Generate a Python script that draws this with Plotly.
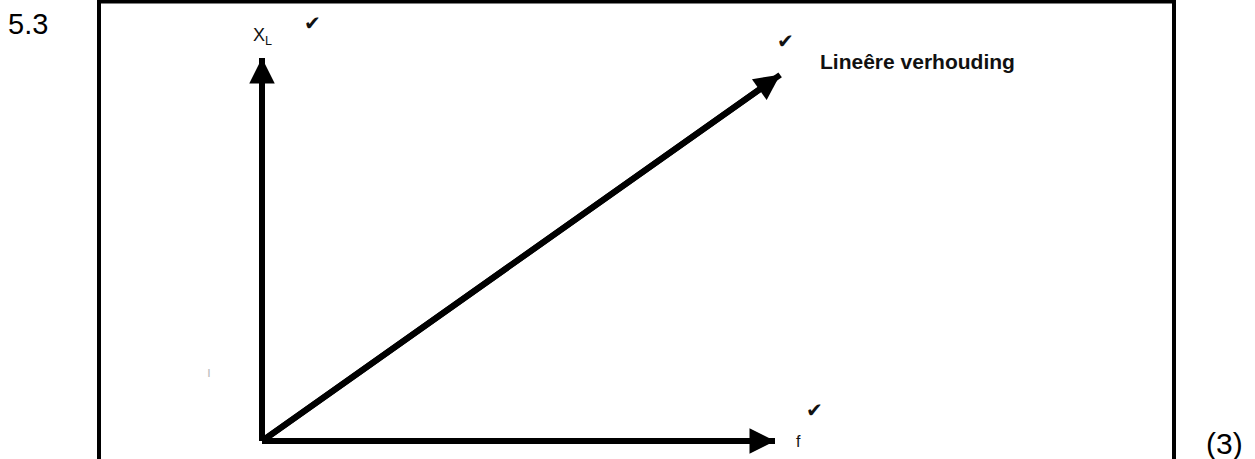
import plotly.graph_objects as go

# data (f on the x axis, X_L on the y axis, axis length = 1)
f_axis_f = [0, 1.0]
f_axis_xl = [0, 0]
xl_axis_f = [0, 0]
xl_axis_xl = [0, 1.0]
line_f = [0, 1.01]
line_xl = [0, 0.956]

W, H = 1255, 459


def px(x, y):
    # pixel position -> paper coords
    return x / W, 1 - y / H


fig = go.Figure()
for xs, ys in [(f_axis_f, f_axis_xl), (xl_axis_f, xl_axis_xl), (line_f, line_xl)]:
    fig.add_trace(go.Scatter(x=xs, y=ys, mode="lines", line=dict(color="black", width=6),
                             hoverinfo="skip", showlegend=False))
    # arrow head at the end of each line
    fig.add_annotation(x=xs[1], y=ys[1], ax=xs[0], ay=ys[0], xref="x", yref="y",
                       axref="x", ayref="y", text="", showarrow=True,
                       arrowhead=2, arrowsize=0.85, arrowwidth=6, arrowcolor="black")

font = "Liberation Sans, Arial, sans-serif"
ann = [
    dict(x=0, y=1.057, text="X<sub>L</sub>", size=18),
    dict(x=0.099, y=1.091, text="✔", size=20),
    dict(x=1.021, y=1.044, text="✔", size=20),
    dict(x=1.077, y=0.081, text="✔", size=20),
    dict(x=1.046, y=0.0, text="f", size=16),
]
for a in ann:
    fig.add_annotation(x=a["x"], y=a["y"], xref="x", yref="y", text=a["text"],
                       showarrow=False, font=dict(family=font, size=a["size"], color="#111"))

fig.add_annotation(x=1.084, y=0.992, xref="x", yref="y", text="<b>Lineêre verhouding</b>",
                   xanchor="left", showarrow=False,
                   font=dict(family=font, size=21, color="#111"))
fig.add_annotation(x=-0.104, y=0.18, xref="x", yref="y", text="ı", showarrow=False,
                   font=dict(family=font, size=14, color="#bbb"))

x53, y53 = px(6, 24)
fig.add_annotation(x=x53, y=y53, xref="paper", yref="paper", text="5.3",
                   xanchor="left", yanchor="middle",
                   showarrow=False, font=dict(family=font, size=29, color="black"))
x3, y3 = px(1224, 443)
fig.add_annotation(x=x3, y=y3, xref="paper", yref="paper", text="(3)",
                   xanchor="center", yanchor="middle",
                   showarrow=False, font=dict(family=font, size=30, color="black"))

bx0, by0 = px(99, 1.5)
bx1, by1 = px(1174, 470)
fig.add_shape(type="rect", xref="paper", yref="paper", x0=bx0, y0=by1, x1=bx1, y1=by0,
              line=dict(color="black", width=4))

fig.update_layout(
    width=W, height=H, margin=dict(l=0, r=0, t=0, b=0),
    paper_bgcolor="white", plot_bgcolor="white",
    xaxis=dict(range=[-262 / 513, (W - 262) / 513], visible=False),
    yaxis=dict(range=[-(H - 441) / 383, 441 / 383], visible=False),
)
fig.write_html("out.html", config={"displayModeBar": False},
               post_script="document.body.style.margin='0';document.body.style.overflow='hidden';")
